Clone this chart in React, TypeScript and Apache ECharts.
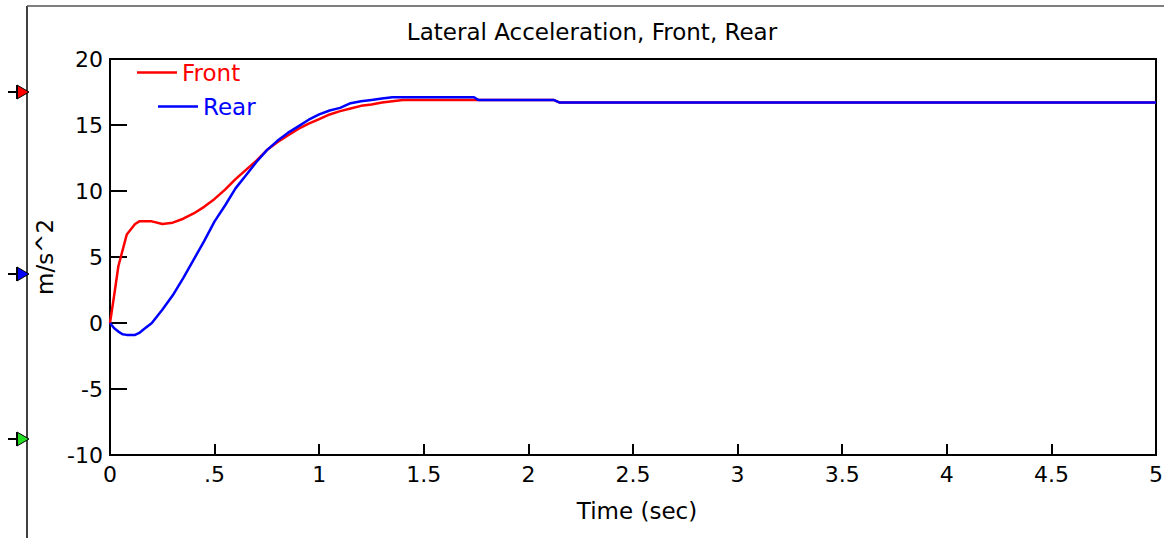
import React, { useEffect, useRef } from "react";
import * as echarts from "echarts";

const TITLE = "Lateral Acceleration, Front, Rear";
const X_NAME = "Time (sec)";
const Y_NAME = "m/s^2";
const SERIES_NAMES = ["Front", "Rear"];

const TIME = [
  0, 0.02, 0.04, 0.06, 0.08, 0.1, 0.12, 0.14, 0.16, 0.2, 0.25, 0.3, 0.35, 0.4,
  0.45, 0.5, 0.55, 0.6, 0.65, 0.7, 0.75, 0.8, 0.85, 0.9, 0.95, 1.0, 1.05, 1.1,
  1.15, 1.2, 1.25, 1.3, 1.35, 1.4, 1.5, 1.6, 1.7, 1.74, 1.76, 2.0, 2.12, 2.15,
  3, 4, 5,
];

const FRONT = [
  0, 2.1, 4.3, 5.5, 6.7, 7.1, 7.5, 7.7, 7.7, 7.7, 7.5, 7.6, 7.9, 8.3, 8.8, 9.4,
  10.1, 10.9, 11.6, 12.3, 13.1, 13.7, 14.2, 14.7, 15.1, 15.45, 15.8, 16.05,
  16.25, 16.45, 16.55, 16.7, 16.8, 16.9, 16.9, 16.9, 16.9, 16.9, 16.9, 16.9,
  16.9, 16.7, 16.7, 16.7, 16.7,
];

const REAR = [
  0, -0.4, -0.65, -0.85, -0.9, -0.9, -0.9, -0.75, -0.5, 0.0, 1.0, 2.1, 3.4,
  4.8, 6.2, 7.7, 8.9, 10.2, 11.2, 12.2, 13.1, 13.8, 14.4, 14.9, 15.4, 15.8,
  16.1, 16.3, 16.65, 16.8, 16.9, 17.0, 17.1, 17.1, 17.1, 17.1, 17.1, 17.1,
  16.9, 16.9, 16.9, 16.7, 16.7, 16.7, 16.7,
];

const X_MIN = 0;
const X_MAX = 5;
const X_STEP = 0.5;
const Y_MIN = -10;
const Y_MAX = 20;
const Y_STEP = 5;

const FONT = "DejaVu Sans";

function fmtX(v: number): string {
  const s = String(Math.round(v * 10) / 10);
  return s.startsWith("0.") ? s.slice(1) : s;
}

function marker(y: number, color: string) {
  return [
    {
      type: "line",
      shape: { x1: 8, y1: y, x2: 17, y2: y },
      style: { stroke: "#000", lineWidth: 2 },
      z: 10,
    },
    {
      type: "polygon",
      shape: { points: [[17, y - 7], [17, y + 7], [29, y]] },
      style: { fill: color, stroke: "#000", lineWidth: 1 },
      z: 11,
    },
    {
      type: "line",
      shape: { x1: 17, y1: y - 7, x2: 17, y2: y + 7 },
      style: { stroke: "#000", lineWidth: 2 },
      z: 12,
    },
  ];
}

export default function App() {
  const ref = useRef<HTMLDivElement>(null);

  useEffect(() => {
    if (!ref.current) return;
    const chart = echarts.init(ref.current, null, { renderer: "svg" });
    const front = TIME.map((t, i) => [t, FRONT[i]]);
    const rear = TIME.map((t, i) => [t, REAR[i]]);

    chart.setOption({
      animation: false,
      backgroundColor: "#fff",
      textStyle: { fontFamily: FONT },
      grid: {
        left: 110,
        top: 59,
        right: 8,
        bottom: 83,
        show: true,
        borderColor: "#000",
        borderWidth: 2,
        outerBoundsMode: "none",
      },
      legend: [
        {
          data: [{ name: SERIES_NAMES[0], textStyle: { color: "#ff0000" } }],
          left: 132,
          top: 56,
          icon: "rect",
          itemWidth: 40,
          itemHeight: 2.5,
          textStyle: { fontSize: 23, fontFamily: FONT },
          selectedMode: false,
        },
        {
          data: [{ name: SERIES_NAMES[1], textStyle: { color: "#0000ff" } }],
          left: 153,
          top: 90,
          icon: "rect",
          itemWidth: 40,
          itemHeight: 2.5,
          textStyle: { fontSize: 23, fontFamily: FONT },
          selectedMode: false,
        },
      ],
      xAxis: {
        type: "value",
        min: X_MIN,
        max: X_MAX,
        interval: X_STEP,
        name: X_NAME,
        nameLocation: "middle",
        nameGap: 44,
        nameTextStyle: { fontSize: 23, color: "#000", fontFamily: FONT, padding: [0, 0, 0, 8] },
        axisLine: { show: true, onZero: false, lineStyle: { color: "#000", width: 2 } },
        axisTick: { show: true, inside: true, length: 11, lineStyle: { color: "#000", width: 2 } },
        axisLabel: { color: "#000", fontSize: 22, margin: 8, formatter: fmtX },
        splitLine: { show: false },
      },
      yAxis: {
        type: "value",
        min: Y_MIN,
        max: Y_MAX,
        interval: Y_STEP,
        name: Y_NAME,
        nameLocation: "middle",
        nameGap: 50,
        nameTextStyle: { fontSize: 23, color: "#000", fontFamily: FONT },
        axisLine: { show: true, onZero: false, lineStyle: { color: "#000", width: 2 } },
        axisTick: { show: true, inside: true, length: 17, lineStyle: { color: "#000", width: 2 } },
        axisLabel: { color: "#000", fontSize: 22, margin: 7 },
        splitLine: { show: false },
      },
      graphic: [
        {
          type: "line",
          shape: { x1: 27, y1: 6, x2: 27, y2: 538 },
          style: { stroke: "#000", lineWidth: 1.5 },
        },
        {
          type: "line",
          shape: { x1: 27, y1: 6, x2: 1164, y2: 6 },
          style: { stroke: "#555", lineWidth: 1.5 },
        },
        {
          type: "text",
          x: 592,
          y: 32,
          style: {
            text: TITLE,
            fontSize: 23,
            fontFamily: FONT,
            fill: "#000",
            textAlign: "center",
            textVerticalAlign: "middle",
          },
        },
        ...marker(92, "#ff0000"),
        ...marker(274, "#0000ff"),
        ...marker(439, "#22dd22"),
      ],
      series: [
        {
          name: SERIES_NAMES[0],
          type: "line",
          data: front,
          showSymbol: false,
          symbol: "none",
          lineStyle: { color: "#ff0000", width: 2.5 },
          itemStyle: { color: "#ff0000" },
          z: 2,
        },
        {
          name: SERIES_NAMES[1],
          type: "line",
          data: rear,
          showSymbol: false,
          symbol: "none",
          lineStyle: { color: "#0000ff", width: 2.5 },
          itemStyle: { color: "#0000ff" },
          z: 3,
        },
      ],
    });
    return () => chart.dispose();
  }, []);

  return (
    <div
      ref={ref}
      style={{ position: "fixed", left: 0, top: 0, width: 1164, height: 538, background: "#fff" }}
    />
  );
}
